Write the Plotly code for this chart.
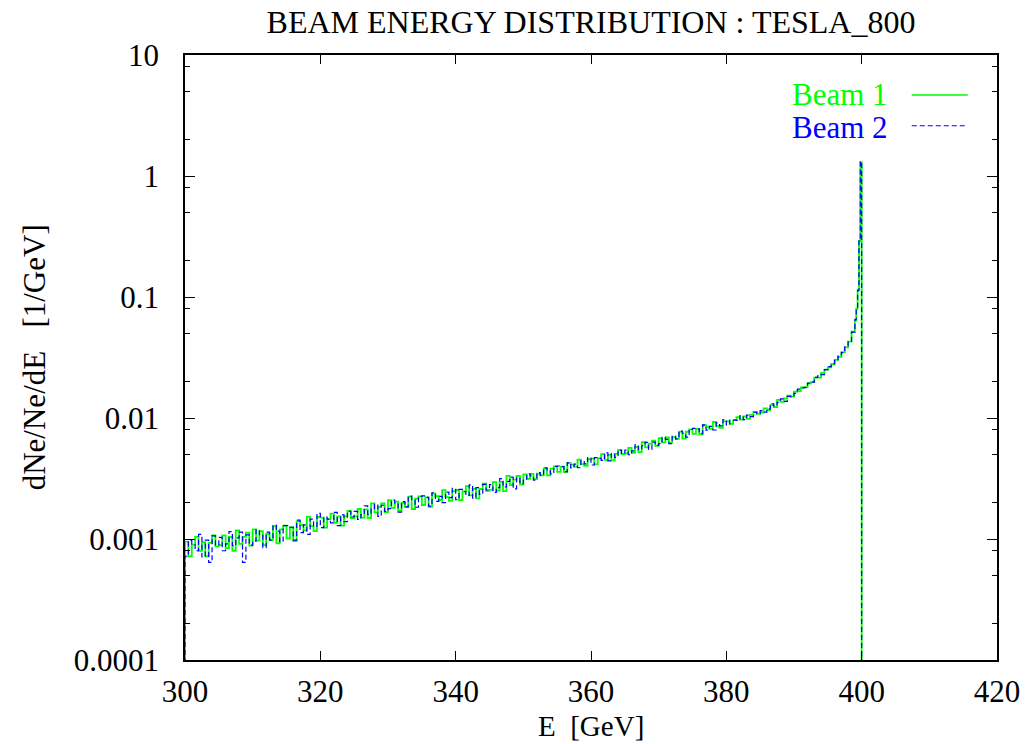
import numpy as np
import plotly.graph_objects as go

# ---------------- data ----------------
# histogram bin edges (GeV): 0.5 GeV bins from 300 to 399, finer bins up to 400
coarse_edges = list(np.arange(300.0, 399.0 + 0.25, 0.5))
fine_edges = [399.2, 399.4, 399.6, 399.8, 400.0]
bin_edges = coarse_edges + fine_edges

beam1 = [
    # 300-305
    0.00095, 0.00072, 0.00090, 0.00104, 0.00080, 0.00094, 0.00072, 0.00093, 0.00107, 0.00087,
    # 305-310
    0.00089, 0.00107, 0.00084, 0.00104, 0.00080, 0.00118, 0.00091, 0.00104, 0.00113, 0.00088,
    # 310-315
    0.00120, 0.00097, 0.00116, 0.00089, 0.00110, 0.00098, 0.00128, 0.00092, 0.00120, 0.00129,
    # 315-320
    0.00101, 0.00125, 0.00096, 0.00140, 0.00130, 0.00118, 0.00153, 0.00128, 0.00116, 0.00152,
    # 320-325
    0.00150, 0.00124, 0.00146, 0.00162, 0.00136, 0.00154, 0.00129, 0.00154, 0.00171, 0.00149,
    # 325-330
    0.00154, 0.00177, 0.00150, 0.00176, 0.00149, 0.00197, 0.00166, 0.00184, 0.00197, 0.00167,
    # 330-335
    0.00209, 0.00181, 0.00204, 0.00172, 0.00199, 0.00184, 0.00224, 0.00177, 0.00215, 0.00225,
    # 335-340
    0.00191, 0.00221, 0.00184, 0.00238, 0.00226, 0.00210, 0.00253, 0.00222, 0.00207, 0.00249,
    # 340-345
    0.00254, 0.00210, 0.00247, 0.00274, 0.00229, 0.00259, 0.00217, 0.00259, 0.00287, 0.00250,
    # 345-350
    0.00256, 0.00295, 0.00251, 0.00296, 0.00249, 0.00332, 0.00279, 0.00310, 0.00333, 0.00282,
    # 350-355
    0.00342, 0.00314, 0.00345, 0.00313, 0.00347, 0.00335, 0.00384, 0.00335, 0.00382, 0.00399,
    # 355-360
    0.00359, 0.00396, 0.00357, 0.00424, 0.00412, 0.00396, 0.00452, 0.00416, 0.00403, 0.00456,
    # 360-365
    0.00461, 0.00414, 0.00463, 0.00502, 0.00452, 0.00495, 0.00447, 0.00505, 0.00546, 0.00504,
    # 365-370
    0.00511, 0.00566, 0.00515, 0.00576, 0.00522, 0.00632, 0.00571, 0.00615, 0.00649, 0.00588,
    # 370-375
    0.00681, 0.00628, 0.00690, 0.00626, 0.00696, 0.00673, 0.00772, 0.00675, 0.00770, 0.00806,
    # 375-380
    0.00738, 0.00814, 0.00733, 0.00871, 0.00847, 0.00815, 0.00927, 0.00855, 0.00828, 0.00937,
    # 380-385
    0.00937, 0.00894, 0.00962, 0.01017, 0.00969, 0.01030, 0.00984, 0.01062, 0.01121, 0.01083,
    # 385-390
    0.0111, 0.0120, 0.0116, 0.0128, 0.0123, 0.0141, 0.0136, 0.0145, 0.0153, 0.0150,
    # 390-395
    0.0165, 0.0167, 0.0179, 0.0180, 0.0193, 0.0198, 0.0216, 0.0216, 0.0236, 0.0251,
    # 395-399
    0.0262, 0.0278, 0.0302, 0.0320, 0.0350, 0.0383, 0.0428, 0.0518,
    # 399-400 (fine bins)
    0.064, 0.080, 0.115, 0.29, 1.30,
]

beam2 = [
    # 300-305
    0.00072, 0.00097, 0.00091, 0.00080, 0.00109, 0.00071, 0.00098, 0.00064, 0.00106, 0.00089,
    # 305-310
    0.00103, 0.00080, 0.00091, 0.00115, 0.00088, 0.00102, 0.00114, 0.00064, 0.00108, 0.00089,
    # 310-315
    0.00096, 0.00119, 0.00107, 0.00085, 0.00114, 0.00098, 0.00130, 0.00116, 0.00095, 0.00129,
    # 315-320
    0.00129, 0.00125, 0.00098, 0.00143, 0.00113, 0.00131, 0.00109, 0.00146, 0.00127, 0.00163,
    # 320-325
    0.00124, 0.00152, 0.00146, 0.00136, 0.00166, 0.00129, 0.00158, 0.00139, 0.00169, 0.00152,
    # 325-330
    0.00169, 0.00145, 0.00159, 0.00188, 0.00160, 0.00178, 0.00193, 0.00154, 0.00190, 0.00169,
    # 330-335
    0.00178, 0.00210, 0.00194, 0.00167, 0.00204, 0.00184, 0.00226, 0.00209, 0.00183, 0.00225,
    # 335-340
    0.00227, 0.00221, 0.00187, 0.00241, 0.00205, 0.00225, 0.00200, 0.00244, 0.00220, 0.00262,
    # 340-345
    0.00211, 0.00257, 0.00247, 0.00229, 0.00280, 0.00218, 0.00266, 0.00234, 0.00283, 0.00254,
    # 345-350
    0.00281, 0.00243, 0.00266, 0.00315, 0.00269, 0.00299, 0.00325, 0.00260, 0.00320, 0.00287,
    # 350-355
    0.00307, 0.00346, 0.00333, 0.00307, 0.00353, 0.00335, 0.00387, 0.00372, 0.00345, 0.00399,
    # 355-360
    0.00401, 0.00396, 0.00360, 0.00428, 0.00387, 0.00415, 0.00388, 0.00443, 0.00418, 0.00471,
    # 360-365
    0.00409, 0.00470, 0.00463, 0.00447, 0.00516, 0.00443, 0.00509, 0.00473, 0.00541, 0.00509,
    # 365-370
    0.00543, 0.00498, 0.00534, 0.00601, 0.00548, 0.00590, 0.00629, 0.00550, 0.00633, 0.00594,
    # 370-375
    0.00613, 0.00691, 0.00666, 0.00614, 0.00709, 0.00673, 0.00778, 0.00748, 0.00696, 0.00806,
    # 375-380
    0.00822, 0.00814, 0.00741, 0.00878, 0.00795, 0.00853, 0.00796, 0.00910, 0.00860, 0.00970,
    # 380-385
    0.00878, 0.00959, 0.00962, 0.00954, 0.01044, 0.00969, 0.01057, 0.01025, 0.01116, 0.01088,
    # 385-390
    0.0115, 0.0112, 0.0119, 0.0131, 0.0126, 0.0135, 0.0144, 0.0137, 0.0151, 0.0150,
    # 390-395
    0.0160, 0.0173, 0.0177, 0.0178, 0.0194, 0.0198, 0.0217, 0.0223, 0.0228, 0.0251,
    # 395-399
    0.0266, 0.0281, 0.0299, 0.0324, 0.0347, 0.0388, 0.0431, 0.0512,
    # 399-400 (fine bins)
    0.065, 0.081, 0.113, 0.30, 1.32,
]

# value outside the histogram (drawn as the drop to the bottom of the frame)
outside_level = 1e-7

x_tick_vals = [300, 320, 340, 360, 380, 400, 420]
y_tick_vals = [0.0001, 0.001, 0.01, 0.1, 1, 10]
y_tick_text = ["0.0001", "0.001", "0.01", "0.1", "1", "10"]
y_minor_vals = [0.0002, 0.0005, 0.0008, 0.002, 0.005, 0.008, 0.02, 0.05, 0.08,
                0.2, 0.5, 0.8, 2, 5, 8]

assert len(beam1) == len(bin_edges) - 1
assert len(beam2) == len(bin_edges) - 1


def step_xy(edges, vals):
    xs = [edges[0]] + list(edges) + [edges[-1]]
    ys = [outside_level] + list(vals) + [vals[-1], outside_level]
    return xs, ys


FONT = "Liberation Serif, serif"
FS = 31
GREEN = "#00ff00"
BLUE = "#0000ff"

fig = go.Figure()
x1, y1 = step_xy(bin_edges, beam1)
x2, y2 = step_xy(bin_edges, beam2)
fig.add_trace(go.Scatter(x=x1, y=y1, mode="lines", line=dict(color=GREEN, width=1.8, shape="hv"),
                         name="Beam 1", showlegend=False))
fig.add_trace(go.Scatter(x=x2, y=y2, mode="lines",
                         line=dict(color=BLUE, width=1.2, shape="hv", dash="5px,3px"),
                         name="Beam 2", showlegend=False))

axis_common = dict(
    showgrid=False, zeroline=False, showline=True, linecolor="black", linewidth=1.5,
    mirror="allticks", ticks="inside", tickcolor="black", tickwidth=1.2, automargin=False,
    tickfont=dict(family=FONT, size=FS, color="black"),
)

fig.update_xaxes(range=[300, 420], tickmode="array", tickvals=x_tick_vals, ticklen=9,
                 ticklabelstandoff=3, **axis_common)
fig.update_yaxes(type="log", range=[-4, 1], tickmode="array", tickvals=y_tick_vals,
                 ticktext=y_tick_text, ticklen=10, ticklabelstandoff=18,
                 minor=dict(tickmode="array", tickvals=y_minor_vals, ticklen=5,
                            ticks="inside", tickcolor="black", tickwidth=1.2, showgrid=False),
                 **axis_common)

fig.update_layout(
    width=1026, height=744,
    margin=dict(l=185, r=29, t=55, b=84, autoexpand=False),
    paper_bgcolor="white", plot_bgcolor="white",
    font=dict(family=FONT, size=FS, color="black"),
    title=dict(text="BEAM ENERGY DISTRIBUTION : TESLA_800", x=0.5, xref="paper",
               y=1 - 22 / 744, yref="container", xanchor="center", yanchor="middle",
               font=dict(family=FONT, size=32, color="black")),
    showlegend=False,
)

# axis titles
fig.add_annotation(text="E  [GeV]", xref="paper", yref="paper", x=0.5, y=-0.109,
                   xanchor="center", yanchor="middle", showarrow=False,
                   font=dict(family=FONT, size=29, color="black"))
fig.add_annotation(text="dNe/Ne/dE   [1/GeV]", xref="paper", yref="paper", x=-0.185, y=0.5,
                   xanchor="center", yanchor="middle", textangle=-90, showarrow=False,
                   font=dict(family=FONT, size=FS, color="black"))

# key
fig.add_annotation(text="Beam 1", xref="paper", yref="paper", x=0.868, y=0.934,
                   xanchor="right", yanchor="middle", showarrow=False,
                   font=dict(family=FONT, size=FS, color=GREEN))
fig.add_annotation(text="Beam 2", xref="paper", yref="paper", x=0.868, y=0.880,
                   xanchor="right", yanchor="middle", showarrow=False,
                   font=dict(family=FONT, size=FS, color=BLUE))
fig.add_shape(type="line", xref="paper", yref="paper", x0=0.895, x1=0.964, y0=0.934, y1=0.934,
              line=dict(color=GREEN, width=1.4))
fig.add_shape(type="line", xref="paper", yref="paper", x0=0.895, x1=0.964, y0=0.883, y1=0.883,
              line=dict(color=BLUE, width=1.1, dash="5px,3px"))

fig.write_html("out.html")
